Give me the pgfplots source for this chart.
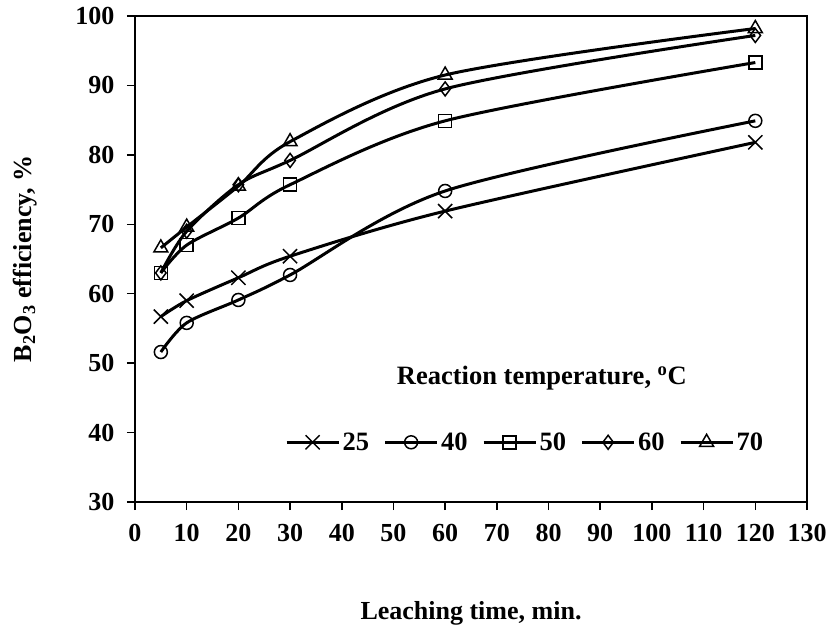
\documentclass[border=0pt]{standalone}
\usepackage{fontspec}
\setmainfont{Liberation Serif}
\usepackage{pgfplots}
\pgfplotsset{compat=1.18}
\begin{document}
\begin{tikzpicture}
\path[use as bounding box] (-135pt,-125pt) rectangle (692pt,502pt);
\begin{axis}[
  at={(0,0)}, anchor=south west,
  scale only axis, width=672pt, height=486pt,
  xmin=0, xmax=130, ymin=30, ymax=100,
  xtick={0,10,...,130}, ytick={30,40,...,100},
  tick align=outside, xtick pos=bottom, ytick pos=left,
  major tick length=8pt,
  every tick/.style={black, line width=1.5pt},
  axis line style={line width=1.5pt},
  tick label style={font=\bfseries\fontsize{26}{31}\selectfont},
  yticklabel style={xshift=-9pt},
  xticklabel style={yshift=-11pt},
  /pgf/number format/assume math mode=true,
  label style={font=\bfseries\fontsize{26}{31}\selectfont},
  xlabel={Leaching time, min.},
  ylabel={B\textsubscript{2}O\textsubscript{3} efficiency, \%},
  xlabel style={at={(axis description cs:0.5,-0.2284)}, anchor=center},
  ylabel style={at={(axis description cs:-0.1637,0.5)}, anchor=center},
  every axis plot/.append style={black, line width=3pt, smooth, mark options={solid, line width=1.5pt}},
  legend columns=5,
  legend style={at={(axis cs:29,38.6)}, anchor=west, draw=none, fill=none, inner sep=0pt,
    font=\bfseries\fontsize{26.5}{31}\selectfont,
    nodes={inner sep=2.5pt},
    /tikz/every even column/.append style={column sep=12pt}},
  legend image code/.code={\draw[mark repeat=2,mark phase=2,#1] plot coordinates {(0pt,0pt)(26pt,0pt)(52pt,0pt)};},
]
\addplot[mark=x, mark size=10pt] coordinates {(5,56.7)(10,59.0)(20,62.3)(30,65.4)(60,71.9)(120,81.8)};
\addlegendentry{25}
\addplot[mark=o, mark size=6.5pt] coordinates {(5,51.6)(10,55.8)(20,59.1)(30,62.7)(60,74.8)(120,84.9)};
\addlegendentry{40}
\addplot[mark=square, mark size=6.5pt] coordinates {(5,63.0)(10,67.0)(20,70.9)(30,75.7)(60,84.9)(120,93.3)};
\addlegendentry{50}
\addplot[mark=diamond, mark size=7pt] coordinates {(5,63.0)(10,69.0)(20,75.7)(30,79.2)(60,89.5)(120,97.2)};
\addlegendentry{60}
\addplot[mark=triangle, mark size=8pt] coordinates {(5,66.6)(10,69.6)(20,75.5)(30,81.9)(60,91.5)(120,98.2)};
\addlegendentry{70}
\node[font=\bfseries\fontsize{26.5}{31}\selectfont] at (axis cs:78.7,47.9) {Reaction temperature, \textsuperscript{o}C};
\end{axis}
\end{tikzpicture}
\end{document}
